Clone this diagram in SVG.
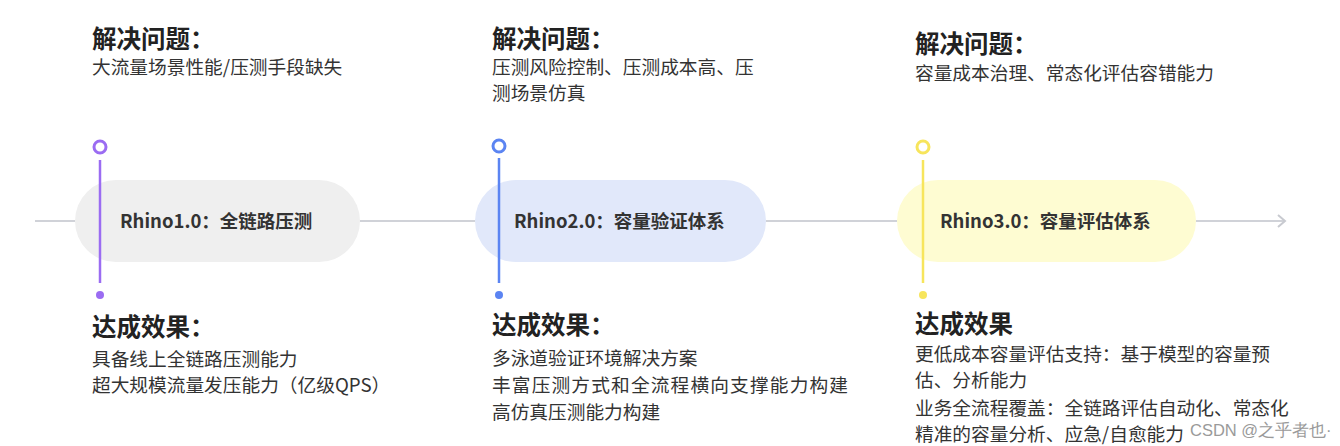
<svg xmlns="http://www.w3.org/2000/svg" width="1340" height="446" viewBox="0 0 1340 446">
<defs>
<style>
text{font-family:"Noto Sans CJK SC","Noto Sans",sans-serif;}
.h{font-size:24.5px;font-weight:700;fill:#222;}
.b{font-size:18.7px;fill:#333;}
.p{font-size:18.5px;font-weight:700;fill:#333;}
.axis{stroke:#d0d2d8;stroke-width:2;fill:none;}
.wm{font-family:"Liberation Sans",sans-serif;font-size:16.5px;fill:#9a9a9a;}
</style>
<marker id="arr" markerWidth="14" markerHeight="14" refX="11" refY="7" orient="auto" markerUnits="userSpaceOnUse">
<path d="M4,1 L11,7 L4,13" fill="none" stroke="#c8cad0" stroke-width="2"/>
</marker>
</defs>
<rect width="1340" height="446" fill="#ffffff"/>
<g id="connectors">
<line class="axis" x1="35" y1="221" x2="75" y2="221"/>
<line class="axis" x1="360" y1="221" x2="475" y2="221"/>
<line class="axis" x1="766" y1="221" x2="897" y2="221"/>
<line class="axis" x1="1196" y1="221" x2="1285" y2="221" marker-end="url(#arr)"/>
</g>
<g id="node1">
<rect x="75" y="180" width="285" height="82" rx="41" fill="#efefef"/>
<line x1="100" y1="160" x2="100" y2="283" stroke="#9b6cf2" stroke-width="2.5"/>
<circle cx="100" cy="147" r="6" fill="#fff" stroke="#9b6cf2" stroke-width="3"/>
<circle cx="100" cy="295" r="4" fill="#9b6cf2"/>
<text class="p" x="120" y="228">Rhino1.0：全链路压测</text>
<text class="h" x="92" y="48">解决问题：</text>
<text class="b" x="92" y="74">大流量场景性能/压测手段缺失</text>
<text class="h" x="92" y="336">达成效果：</text>
<text class="b" x="92" y="366">具备线上全链路压测能力</text>
<text class="b" x="92" y="392">超大规模流量发压能力（亿级QPS）</text>
</g>
<g id="node2">
<rect x="475" y="180" width="291" height="82" rx="41" fill="#e1e8fa"/>
<line x1="499" y1="158" x2="499" y2="283" stroke="#5b84f2" stroke-width="2.5"/>
<circle cx="499" cy="146" r="6" fill="#fff" stroke="#5b84f2" stroke-width="3"/>
<circle cx="499" cy="295" r="4" fill="#5b84f2"/>
<text class="p" x="514" y="228">Rhino2.0：容量验证体系</text>
<text class="h" x="492" y="48">解决问题：</text>
<text class="b" x="492" y="74">压测风险控制、压测成本高、压</text>
<text class="b" x="492" y="100">测场景仿真</text>
<text class="h" x="492" y="334">达成效果：</text>
<text class="b" x="492" y="365">多泳道验证环境解决方案</text>
<text class="b" x="492" y="392" textLength="356" lengthAdjust="spacing">丰富压测方式和全流程横向支撑能力构建</text>
<text class="b" x="492" y="419">高仿真压测能力构建</text>
</g>
<g id="node3">
<rect x="897" y="180" width="299" height="82" rx="41" fill="#fefcd2"/>
<line x1="923" y1="160" x2="923" y2="283" stroke="#f7e55c" stroke-width="2.5"/>
<circle cx="923" cy="147" r="6" fill="#fff" stroke="#f7e55c" stroke-width="3"/>
<circle cx="923" cy="295" r="4" fill="#f7e55c"/>
<text class="p" x="940" y="228">Rhino3.0：容量评估体系</text>
<text class="h" x="915" y="53">解决问题：</text>
<text class="b" x="915" y="80">容量成本治理、常态化评估容错能力</text>
<text class="h" x="915" y="333">达成效果</text>
<text class="b" x="915" y="361">更低成本容量评估支持：基于模型的容量预</text>
<text class="b" x="915" y="387">估、分析能力</text>
<text class="b" x="915" y="415">业务全流程覆盖：全链路评估自动化、常态化</text>
<text class="b" x="915" y="441">精准的容量分析、应急/自愈能力</text>
</g>
<text class="wm" x="1190" y="436">CSDN @之乎者也·</text>
</svg>
